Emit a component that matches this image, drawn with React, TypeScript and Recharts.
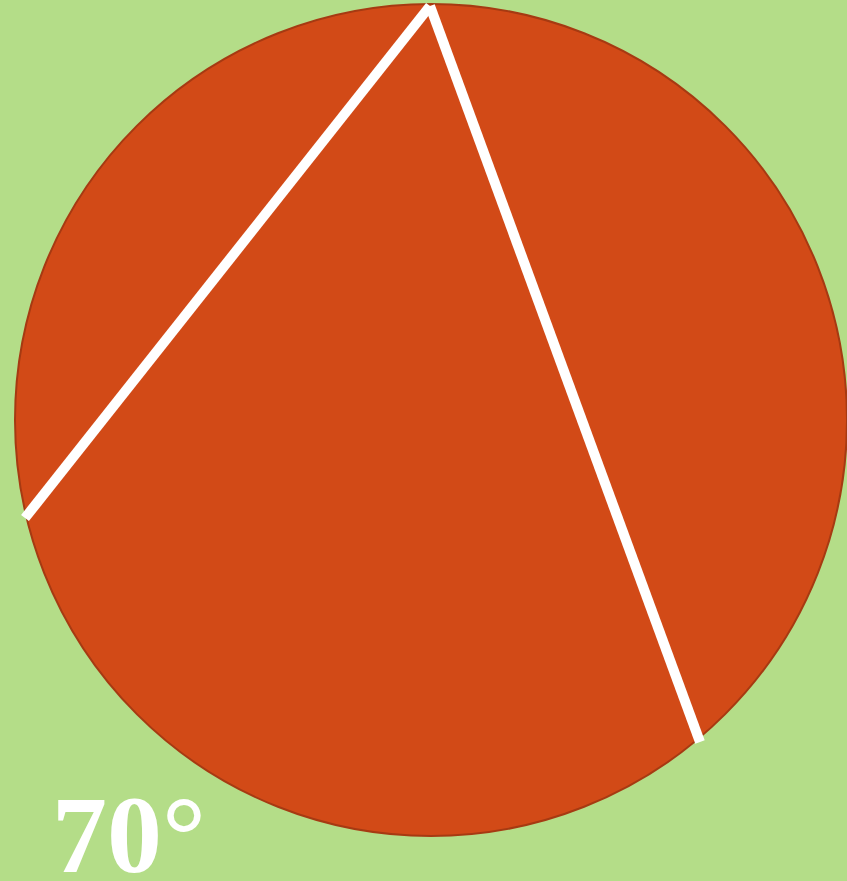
import React from 'react';
import { ComposedChart, Scatter, XAxis, YAxis, ReferenceDot } from 'recharts';

// picture coordinates (x to the right, y downwards)
const circle = { cx: 431, cy: 420, r: 416 };
const apex = { x: 430, y: 6 };
const leftEnd = { x: 25, y: 518 };
const rightEnd = { x: 700, y: 742 };
const chordLeft = [apex, leftEnd];
const chordRight = [apex, rightEnd];
const angleLabel = { x: 52, y: 872, text: '70°' };

const W = 847;
const H = 881;

export default function App() {
  const renderAngle = (props: any) => {
    const { viewBox } = props;
    return (
      <text
        x={viewBox.x}
        y={viewBox.y}
        fill="#ffffff"
        fontFamily="'Liberation Serif', 'DejaVu Serif', serif"
        fontWeight="bold"
        fontSize={110}
        textAnchor="start"
      >
        {angleLabel.text}
      </text>
    );
  };

  return (
    <div style={{ position: 'absolute', left: 0, top: 0, width: W, height: H, background: '#b4dd88' }}>
      <ComposedChart width={W} height={H} margin={{ top: 0, right: 0, bottom: 0, left: 0 }}>
        <XAxis type="number" dataKey="x" domain={[0, W]} hide allowDataOverflow />
        <YAxis type="number" dataKey="y" domain={[0, H]} reversed hide allowDataOverflow />
        <ReferenceDot
          x={circle.cx}
          y={circle.cy}
          r={circle.r}
          fill="#d24a17"
          stroke="#a63a12"
          strokeWidth={2}
          ifOverflow="visible"
        />
        <Scatter
          data={chordLeft}
          line={{ stroke: '#ffffff', strokeWidth: 10, strokeLinecap: 'butt' }}
          shape={() => null}
          isAnimationActive={false}
        />
        <Scatter
          data={chordRight}
          line={{ stroke: '#ffffff', strokeWidth: 10, strokeLinecap: 'butt' }}
          shape={() => null}
          isAnimationActive={false}
        />
        <ReferenceDot
          x={angleLabel.x}
          y={angleLabel.y}
          r={0}
          fill="none"
          stroke="none"
          ifOverflow="visible"
          label={renderAngle}
        />
      </ComposedChart>
    </div>
  );
}
